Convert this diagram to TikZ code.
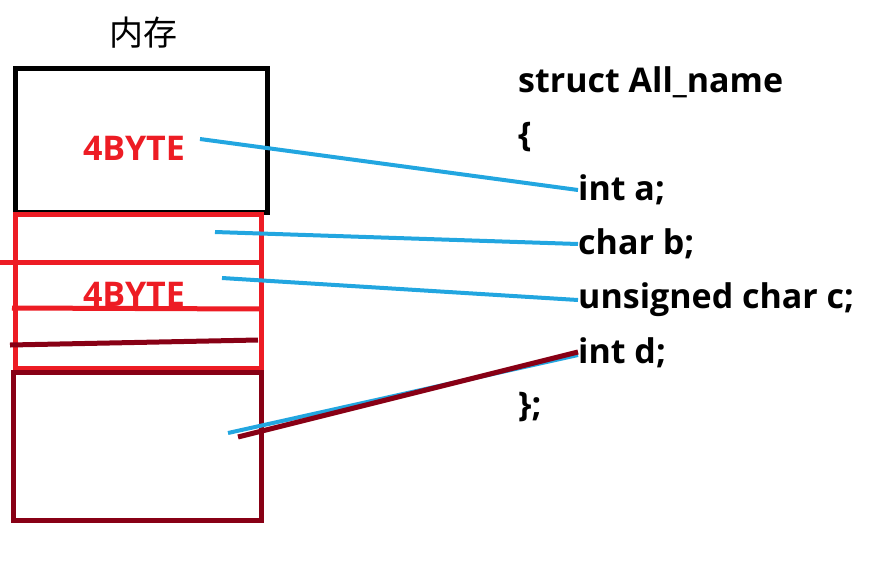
\documentclass[tikz,border=0pt]{standalone}
\usepackage{fontspec}
\setmainfont{Open Sans}
\newfontfamily\cjk{Noto Sans CJK SC}
\definecolor{memred}{HTML}{ED1C24}
\definecolor{memdark}{HTML}{880015}
\definecolor{memblue}{HTML}{22A6E0}
\tikzset{
  cell/.style={draw, line width=5pt},
  code/.style={anchor=west, inner sep=0pt, font=\fontsize{34}{38}\selectfont\bfseries},
  byte/.style={text=memred, inner sep=0pt, font=\fontsize{34}{38}\selectfont\bfseries},
  link/.style={line width=4pt, memblue}
}
\begin{document}
\begin{tikzpicture}[x=1pt,y=-1pt]
\useasboundingbox (0,0) rectangle (872,560);
\node[font=\cjk\fontsize{34}{36}\selectfont] (mem) at (143,33){内存};
% memory cells
\draw[cell] (15,68) rectangle (267,212);
\draw[cell, memred] (15,214) rectangle (261,368);
\draw[line width=5pt, memred] (0,262) -- (261,262);
\draw[line width=5pt, memred] (12,308) -- (261,309);
\draw[line width=5pt, memdark] (10,345) -- (258,340);
\draw[cell, memdark] (13,372) rectangle (261,520);
\node[byte] (b0) at (134,148){4BYTE};
\node[byte] (b1) at (134,294){4BYTE};
% struct text
\node[code] (sn) at (518,82){struct All\_name};
\node[code] (lb) at (518,137){\{};
\node[code] (ia) at (578,190){int a;};
\node[code] (cb) at (578,244){char b;};
\node[code] (uc) at (578,300){unsigned char c;};
\node[code] (id) at (578,353){int d;};
\node[code] (rb) at (518,407){\};};
% links
\coordinate (pa) at (200,139);
\coordinate (pb) at (215,232);
\coordinate (pc) at (222,278);
\coordinate (pd) at (228,433);
\coordinate (pe) at (238,437);
\draw[link](pa) -- (ia.west);
\draw[link](pb) -- (cb.west);
\draw[link](pc) -- (uc.west);
\draw[link](pd) -- ([yshift=-2pt]id.west);
\draw[link, memdark, line width=5pt](pe) -- ([yshift=1pt]id.west);
\end{tikzpicture}
\end{document}
